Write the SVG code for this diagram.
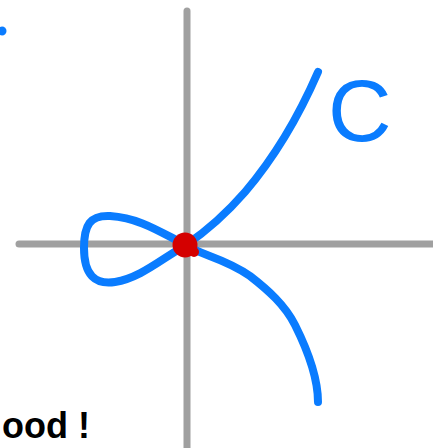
<svg xmlns="http://www.w3.org/2000/svg" width="433" height="448" viewBox="0 0 433 448">
<style>
.axis{stroke:#a0a0a0;stroke-width:7;stroke-linecap:round;fill:none}
.curve{stroke:#0a7cff;stroke-width:8;stroke-linecap:round;stroke-linejoin:round;fill:none}
.lbl{font-family:"Liberation Sans",Arial,sans-serif}
</style>
<rect width="433" height="448" fill="#ffffff"/>
<g id="axes">
<line class="axis" x1="187" y1="11" x2="187" y2="452"/>
<line class="axis" x1="19" y1="244" x2="440" y2="244"/>
</g>
<g id="curve-C">
<path class="curve" d="M186 245 C205 232 225 215 245 192 C268 165 295 125 318 72"/>
<path class="curve" d="M186 245 C200 255 225 258 250 276 C268 290 285 305 295 325 C305 345 318 375 318 402"/>
<path class="curve" d="M186 245 C160 232 140 218 110 216 C90 215 84 225 84 248 C84 275 95 285 115 282 C140 278 160 260 186 245"/>
</g>
<g id="node-point">
<circle cx="185" cy="245" r="12.5" fill="#d40000"/>
<circle cx="194" cy="252" r="5" fill="#d40000"/>
</g>
<g id="dot-topleft">
<circle cx="2" cy="31" r="4.5" fill="#0a7cff"/>
</g>
<g id="label-C">
<text class="lbl" x="328" y="141" font-size="88" fill="#0a7cff">C</text>
</g>
<g id="label-bottom">
<text class="lbl" x="2" y="438" font-size="36" font-weight="bold" fill="#000000">ood !</text>
</g>
</svg>
